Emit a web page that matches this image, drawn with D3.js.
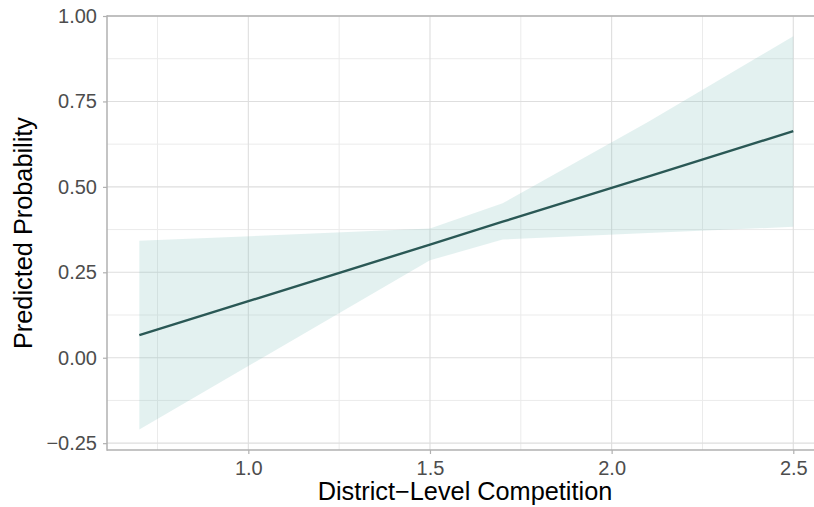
<!DOCTYPE html>
<html>
  <head>
    <meta charset="utf-8">
    <title>Predicted Probability</title>
    <script src="https://cdn.jsdelivr.net/npm/d3@7"></script>
    <style>
      body { margin: 0; background: #fff; }
      text { font-family: 'Liberation Sans', Arial, sans-serif; }
      .tick-label { fill: #4d4d4d; font-size: 20px; }
      .axis-title { fill: #000; font-size: 25.3px; text-anchor: middle; }
    </style>
  </head>
  <body>
    <script>

      // data
      var competition = [0.7, 1.5, 1.7, 2.1, 2.5];
      var fitted      = [0.066, 0.331, 0.398, 0.530, 0.663];
      var upper       = [0.342, 0.378, 0.452, 0.690, 0.941];
      var lower       = [-0.210, 0.285, 0.346, 0.365, 0.383];

      var xTicks = [1.0, 1.5, 2.0, 2.5];
      var xMinor = [0.75, 1.25, 1.75, 2.25];
      var yTicks = [-0.25, 0, 0.25, 0.5, 0.75, 1.0];
      var yMinor = [-0.125, 0.125, 0.375, 0.625, 0.875];

      var width = 814, height = 507;
      var panel = { left: 107, right: 814, top: 16, bottom: 450 };

      var data = competition.map(function(c, i) {
        return { x: c, fit: fitted[i], hi: upper[i], lo: lower[i] };
      });

      var svg = d3.select("body").append("svg")
        .attr("width", width)
        .attr("height", height);

      var xScale = d3.scaleLinear()
        .domain([0.611, 2.557])
        .range([panel.left, panel.right]);
      var yScale = d3.scaleLinear()
        .domain([-0.27, 1.0])
        .range([panel.bottom, panel.top]);

      // grid
      var grid = svg.append("g");
      grid.selectAll(".ymin").data(yMinor).enter().append("line")
        .attr("x1", panel.left).attr("x2", panel.right)
        .attr("y1", function(d) { return yScale(d); })
        .attr("y2", function(d) { return yScale(d); })
        .attr("stroke", "#ebebeb").attr("stroke-width", 1);
      grid.selectAll(".xmin").data(xMinor).enter().append("line")
        .attr("y1", panel.top).attr("y2", panel.bottom)
        .attr("x1", function(d) { return xScale(d); })
        .attr("x2", function(d) { return xScale(d); })
        .attr("stroke", "#ebebeb").attr("stroke-width", 1);
      grid.selectAll(".ymaj").data(yTicks).enter().append("line")
        .attr("x1", panel.left).attr("x2", panel.right)
        .attr("y1", function(d) { return yScale(d); })
        .attr("y2", function(d) { return yScale(d); })
        .attr("stroke", "#dedede").attr("stroke-width", 1.1);
      grid.selectAll(".xmaj").data(xTicks).enter().append("line")
        .attr("y1", panel.top).attr("y2", panel.bottom)
        .attr("x1", function(d) { return xScale(d); })
        .attr("x2", function(d) { return xScale(d); })
        .attr("stroke", "#dedede").attr("stroke-width", 1.1);

      // ribbon
      var area = d3.area()
        .x(function(d) { return xScale(d.x); })
        .y0(function(d) { return yScale(d.lo); })
        .y1(function(d) { return yScale(d.hi); });
      svg.append("path")
        .datum(data)
        .attr("d", area)
        .attr("fill", "#7fc1bb")
        .attr("fill-opacity", 0.22);

      // fitted line
      var line = d3.line()
        .x(function(d) { return xScale(d.x); })
        .y(function(d) { return yScale(d.fit); });
      svg.append("path")
        .datum(data)
        .attr("d", line)
        .attr("fill", "none")
        .attr("stroke", "#2a5855")
        .attr("stroke-width", 2.4);

      // axes
      var xAxis = d3.axisBottom(xScale)
        .tickValues(xTicks)
        .tickFormat(d3.format(".1f"))
        .tickSize(4)
        .tickPadding(7);
      var xAxisG = svg.append("g")
        .attr("transform", "translate(0," + panel.bottom + ")")
        .call(xAxis);

      var yAxis = d3.axisLeft(yScale)
        .tickValues(yTicks)
        .tickFormat(function(d) { return d3.format(".2f")(d).replace("-", "\u2212"); })
        .tickSize(4)
        .tickPadding(6);
      var yAxisG = svg.append("g")
        .attr("transform", "translate(" + panel.left + ",0)")
        .call(yAxis);

      [xAxisG, yAxisG].forEach(function(g) {
        g.select(".domain").remove();
        g.selectAll(".tick line").attr("stroke", "#b0b0b0").attr("stroke-width", 1.2);
        g.selectAll(".tick text").attr("class", "tick-label")
          .attr("font-family", null).attr("font-size", null);
      });

      // panel border lines (left, bottom, top)
      svg.append("line")
        .attr("x1", panel.left).attr("x2", panel.left)
        .attr("y1", panel.top - 0.7).attr("y2", panel.bottom + 0.7)
        .attr("stroke", "#b0b0b0").attr("stroke-width", 1.5);
      svg.append("line")
        .attr("x1", panel.left).attr("x2", panel.right)
        .attr("y1", panel.bottom).attr("y2", panel.bottom)
        .attr("stroke", "#b0b0b0").attr("stroke-width", 1.5);
      svg.append("line")
        .attr("x1", panel.left).attr("x2", panel.right)
        .attr("y1", panel.top).attr("y2", panel.top)
        .attr("stroke", "#b0b0b0").attr("stroke-width", 1.5);

      // titles
      svg.append("text")
        .attr("class", "axis-title")
        .attr("x", 465)
        .attr("y", 500)
        .text("District\u2212Level Competition");
      svg.append("text")
        .attr("class", "axis-title")
        .attr("transform", "translate(32," + (panel.top + panel.bottom) / 2 + ") rotate(-90)")
        .text("Predicted Probability");

    </script>
  </body>
</html>
